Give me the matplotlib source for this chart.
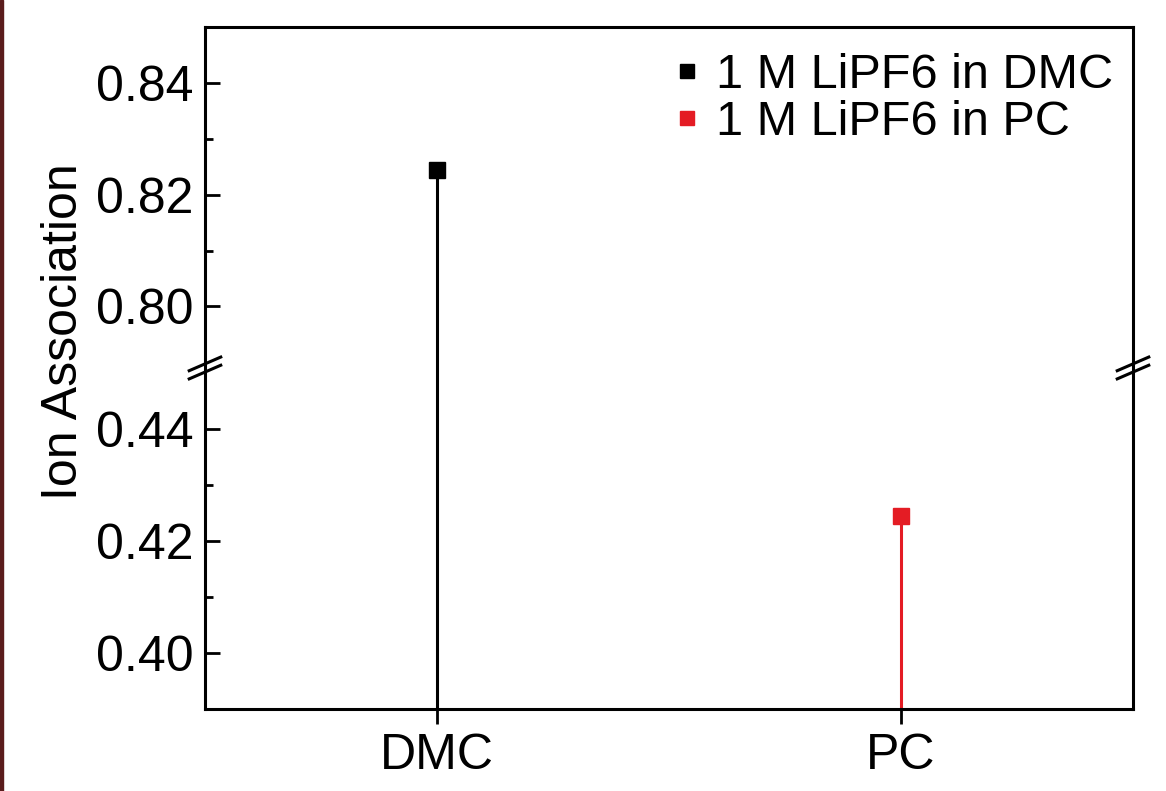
import numpy as np
import matplotlib
matplotlib.use('Agg')
import matplotlib.pyplot as plt
from matplotlib.patches import Rectangle

plt.rcParams['font.family'] = ['Liberation Sans', 'DejaVu Sans']

# data
solvents = ['DMC', 'PC']
labels = ['1 M LiPF6 in DMC', '1 M LiPF6 in PC']
ion_assoc = [0.8245, 0.4245]
colors = ['black', '#e41c24']

# broken y axis: lower part 0.39-0.45, upper part 0.79-0.85
low_lim = (0.39, 0.45)
high_lim = (0.79, 0.85)
gap = 0.002
shift = high_lim[0] - low_lim[1] - gap

def fwd(y):
    y = np.asarray(y, dtype=float)
    return np.where(y > 0.6, y - shift, y)

def inv(t):
    t = np.asarray(t, dtype=float)
    return np.where(t > low_lim[1] + gap / 2, t + shift, t)

fig = plt.figure(figsize=(11.66, 7.91), dpi=100)
ax = fig.add_axes([0.1758, 0.1037, 0.9717 - 0.1758, 0.9659 - 0.1037])
ax.set_yscale('function', functions=(fwd, inv))

xpos = np.arange(1, len(solvents) + 1)
for i in range(len(solvents)):
    ax.vlines(xpos[i], low_lim[0], ion_assoc[i], colors=colors[i], lw=2.2, zorder=2)
    ax.plot(xpos[i], ion_assoc[i], 's', color=colors[i], markersize=11.5,
            label=labels[i], zorder=3)

ax.set_xlim(0.5, 2.5)
ax.set_ylim(low_lim[0], high_lim[1])
ax.set_xticks(xpos)
ax.set_xticklabels(solvents)
ax.set_yticks([0.40, 0.42, 0.44, 0.80, 0.82, 0.84])
ax.set_yticklabels(['0.40', '0.42', '0.44', '0.80', '0.82', '0.84'])
ax.set_yticks([0.41, 0.43, 0.81, 0.83], minor=True)

ax.tick_params(axis='y', which='major', direction='in', length=11, width=2, labelsize=36, pad=8)
ax.tick_params(axis='y', which='minor', direction='in', length=6, width=2)
ax.tick_params(axis='x', which='major', direction='out', length=11, width=2, labelsize=36, pad=6)
for s in ax.spines.values():
    s.set_linewidth(2.2)

ax.set_ylabel('Ion Association', fontsize=36)
ax.yaxis.set_label_coords(-0.127, 0.554)

# break marks on both spines
for xa in [0, 1]:
    for off in [-0.006, 0.006]:
        ax.plot([xa - 0.017, xa + 0.017], [0.5 + off - 0.01, 0.5 + off + 0.01],
                color='black', lw=2.2, transform=ax.transAxes, clip_on=False, zorder=5)

ax.legend(loc='upper right', frameon=False, fontsize=35, handlelength=0.6,
          handletextpad=0.3, labelspacing=0.03, borderaxespad=0.0,
          bbox_to_anchor=(1.0, 0.99), markerscale=0.9)

# thin dark edge at the left of the picture
fig.patches.append(Rectangle((0, 0), 3 / 1166, 1, transform=fig.transFigure,
                             color='#5a1c1c', zorder=0))

fig.savefig('out.png', dpi=100)
